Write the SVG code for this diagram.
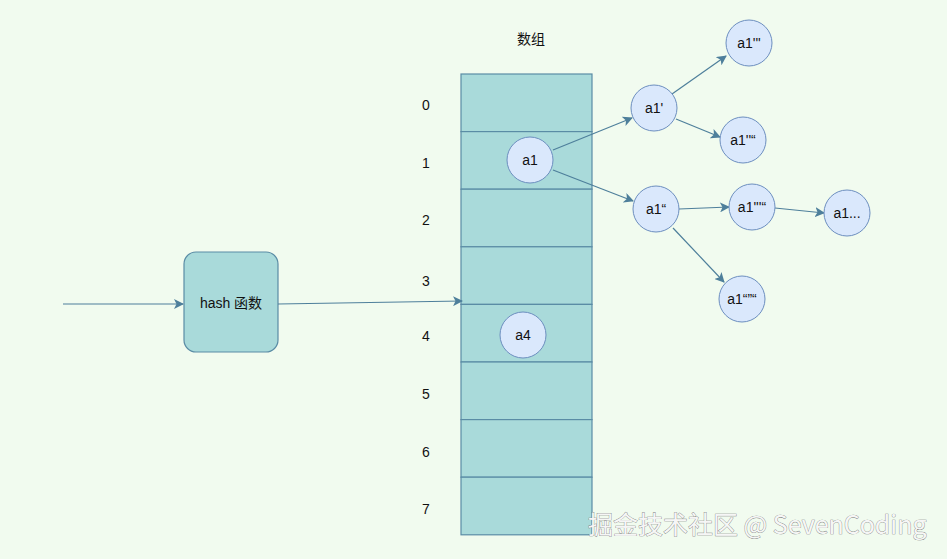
<svg xmlns="http://www.w3.org/2000/svg" width="947" height="559" viewBox="0 0 947 559">
<defs>
<style>
.t{font-family:"Liberation Sans","Noto Sans CJK SC",Arial,sans-serif;font-size:14px;fill:#111;text-anchor:middle;dominant-baseline:central}
.cell{fill:#A9DADA;stroke:#5A8CA5;stroke-width:1.2}
.c{fill:#DAE8FC;stroke:#6C8EBF;stroke-width:1}
.e{stroke:#4E7F9B;stroke-width:1.2;fill:none;marker-end:url(#ah)}
.wm{font-family:"Noto Sans CJK SC","Liberation Sans",sans-serif;font-size:25px;fill:#f6f6f6;stroke:#7a7a7a;stroke-width:0.7;paint-order:stroke}
</style>
<marker id="ah" viewBox="0 0 10 10" refX="9" refY="5" markerWidth="10" markerHeight="10" markerUnits="userSpaceOnUse" orient="auto">
<path d="M0,0 L10,5 L0,10 L2.5,5 Z" fill="#4E7F9B"/>
</marker>
</defs>
<rect width="947" height="559" fill="#F1FBEF"/>
<text class="t" x="531" y="39">数组</text>
<g id="array">
<rect class="cell" x="461" y="74" width="131" height="57.6"/>
<rect class="cell" x="461" y="131.6" width="131" height="57.6"/>
<rect class="cell" x="461" y="189.2" width="131" height="57.6"/>
<rect class="cell" x="461" y="246.8" width="131" height="57.6"/>
<rect class="cell" x="461" y="304.4" width="131" height="57.6"/>
<rect class="cell" x="461" y="362" width="131" height="57.6"/>
<rect class="cell" x="461" y="419.6" width="131" height="57.6"/>
<rect class="cell" x="461" y="477.2" width="131" height="57.6"/>
</g>
<g id="indices">
<text class="t" x="426" y="105">0</text>
<text class="t" x="426" y="163">1</text>
<text class="t" x="426" y="220">2</text>
<text class="t" x="426" y="281">3</text>
<text class="t" x="426" y="336">4</text>
<text class="t" x="426" y="394">5</text>
<text class="t" x="426" y="452">6</text>
<text class="t" x="426" y="509">7</text>
</g>
<g id="hash">
<rect x="184" y="252" width="94" height="100" rx="12" fill="#A9DADA" stroke="#5A8CA5" stroke-width="1.2"/>
<text class="t" x="231" y="303">hash 函数</text>
</g>
<g id="connectors">
<line class="e" x1="63" y1="304" x2="183" y2="304"/>
<line class="e" x1="278" y1="304" x2="462" y2="301"/>
<line class="e" x1="553" y1="150" x2="632" y2="118"/>
<line class="e" x1="553" y1="170" x2="633" y2="201"/>
<line class="e" x1="672" y1="94" x2="726" y2="56"/>
<line class="e" x1="676" y1="119" x2="720" y2="137"/>
<line class="e" x1="679" y1="209" x2="729" y2="207"/>
<line class="e" x1="775" y1="208" x2="824" y2="213"/>
<line class="e" x1="673" y1="228" x2="724" y2="282"/>
</g>
<g id="n-a1"><circle class="c" cx="530" cy="160" r="23"/><text class="t" x="530" y="160">a1</text></g>
<g id="n-a4"><circle class="c" cx="523" cy="335" r="23"/><text class="t" x="523" y="335">a4</text></g>
<g id="n-a1p"><circle class="c" cx="654" cy="108" r="23"/><text class="t" x="654" y="108">a1'</text></g>
<g id="n-a1ppp"><circle class="c" cx="749" cy="43" r="23"/><text class="t" x="749" y="43">a1'''</text></g>
<g id="n-a1ppq"><circle class="c" cx="743" cy="140" r="23"/><text class="t" x="743" y="140">a1''“</text></g>
<g id="n-a1q"><circle class="c" cx="656" cy="209" r="23"/><text class="t" x="656" y="209">a1“</text></g>
<g id="n-a1pppq"><circle class="c" cx="752" cy="207" r="23"/><text class="t" x="752" y="207">a1'''“</text></g>
<g id="n-a1dots"><circle class="c" cx="847" cy="213" r="23"/><text class="t" x="847" y="213">a1...</text></g>
<g id="n-a1qqq"><circle class="c" cx="742" cy="299" r="23"/><text class="t" x="742" y="299">a1“”“</text></g>
<text class="wm" x="588" y="534">掘金技术社区 @ SevenCoding</text>
</svg>
